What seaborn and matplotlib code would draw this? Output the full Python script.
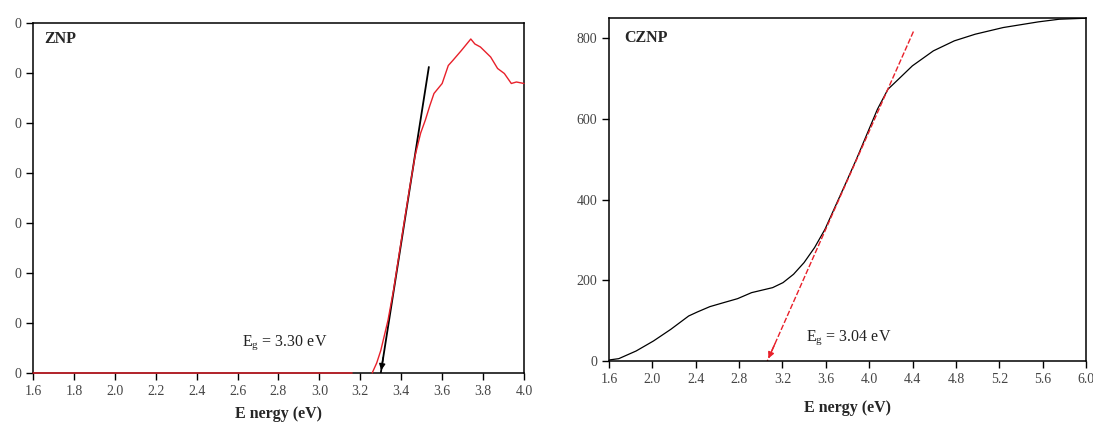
import numpy as np
import pandas as pd
import matplotlib
matplotlib.use("Agg")
import matplotlib.pyplot as plt
import seaborn as sns

# ZNP (left panel)
znp_e = [1.6, 3.16, np.nan, 3.258, 3.28, 3.30, 3.335, 3.362, 3.404, 3.443, 3.468, 3.495, 3.518,
         3.54, 3.56, 3.60, 3.63, 3.652, 3.694, 3.72, 3.74, 3.76, 3.787, 3.837, 3.871, 3.904,
         3.938, 3.963, 4.0]
znp_y = [0, 0, np.nan, 0, 2, 4.5, 10.5, 16.5, 27.5, 37.5, 43.5, 48, 50.6,
         53.5, 55.9, 57.9, 61.5, 62.5, 64.5, 65.8, 66.8, 65.8, 65.2, 63.2, 60.9, 59.9,
         57.9, 58.2, 57.9]
znp_fit_e = [3.535, 3.30]
znp_fit_y = [61.2, 0]

# CZNP (right panel)
cznp_e = [1.6, 1.69, 1.85, 2.01, 2.17, 2.335, 2.415, 2.53, 2.657, 2.786, 2.915,
          3.109, 3.205, 3.302, 3.399, 3.496, 3.592, 3.689, 3.786, 3.882, 3.979,
          4.076, 4.173, 4.27, 4.398, 4.592, 4.785, 4.978, 5.236, 5.559, 5.752, 6.0]
cznp_y = [2.5, 5.8, 24.8, 49.6, 78.5, 111.6, 121.5, 134.7, 144.6, 154.5, 169.4,
          181.8, 194.2, 214.9, 243.8, 281, 326.4, 384.3, 442.1, 500, 562,
          624, 673.5, 698.3, 731.4, 768.6, 793.4, 809.9, 826.4, 840.4, 847, 849.5]
cznp_fit_e = [4.408, 3.06]
cznp_fit_y = [816.5, 0]

znp_xticks = [1.6, 1.8, 2.0, 2.2, 2.4, 2.6, 2.8, 3.0, 3.2, 3.4, 3.6, 3.8, 4.0]
znp_yticks = [0, 10, 20, 30, 40, 50, 60, 70]
znp_ylabels = ["0"] * 8
cznp_xticks = [1.6, 2.0, 2.4, 2.8, 3.2, 3.6, 4.0, 4.4, 4.8, 5.2, 5.6, 6.0]
cznp_yticks = [0, 200, 400, 600, 800]

sns.set_style("ticks")
plt.rcParams["font.family"] = ["Liberation Serif", "DejaVu Serif"]
plt.rcParams["mathtext.fontset"] = "custom"
plt.rcParams["mathtext.rm"] = "Liberation Serif"
plt.rcParams["mathtext.it"] = "Liberation Serif"


def arrow_on_fit(ax, fe, fy, frac, color):
    # arrowhead at the low end of the fitted line
    x0 = fe[1] + (fe[0] - fe[1]) * frac
    y0 = fy[1] + (fy[0] - fy[1]) * frac
    ax.annotate("", xy=(fe[1], fy[1]), xytext=(x0, y0),
                arrowprops=dict(arrowstyle="-|>", color=color, lw=1, mutation_scale=9))


fig = plt.figure(figsize=(10.93, 4.25), dpi=100)
ax1 = fig.add_axes([0.0302, 0.1224, 0.4492, 0.8235])
ax2 = fig.add_axes([0.5572, 0.1506, 0.4364, 0.807])

df1 = pd.DataFrame({"e": znp_e, "y": znp_y})
ax1.plot(df1["e"], df1["y"], color="#e8202a", lw=1.0, zorder=3, clip_on=False)
sns.lineplot(x=znp_fit_e, y=znp_fit_y, ax=ax1, color="black", lw=1.3, sort=False)
arrow_on_fit(ax1, znp_fit_e, znp_fit_y, 0.06, "black")
ax1.text(2.62, 5.5, r"E$_{\mathrm{g}}$ = 3.30 eV", fontsize=11.5, color="#222222")
ax1.text(1.655, 66, "ZNP", fontsize=11.5, fontweight="bold")
ax1.set_xlim(1.6, 4.0)
ax1.set_ylim(0, 70)
ax1.set_xticks(znp_xticks)
ax1.set_xticklabels([f"{v:.1f}" for v in znp_xticks])
ax1.set_yticks(znp_yticks)
ax1.set_yticklabels(znp_ylabels)

df2 = pd.DataFrame({"e": cznp_e, "y": cznp_y})
sns.lineplot(data=df2, x="e", y="y", ax=ax2, color="black", lw=0.9)
sns.lineplot(x=cznp_fit_e, y=cznp_fit_y, ax=ax2, color="#e8202a", lw=1.0, sort=False,
             linestyle=(0, (4, 1.5)))
arrow_on_fit(ax2, cznp_fit_e, cznp_fit_y, 0.06, "#e8202a")
ax2.text(3.42, 50, r"E$_{\mathrm{g}}$ = 3.04 eV", fontsize=11.5, color="#222222")
ax2.text(1.74, 790, "CZNP", fontsize=11.5, fontweight="bold")
ax2.set_xlim(1.6, 6.0)
ax2.set_ylim(0, 850)
ax2.set_xticks(cznp_xticks)
ax2.set_xticklabels([f"{v:.1f}" for v in cznp_xticks])
ax2.set_yticks(cznp_yticks)

for ax, pad in ((ax1, 6), (ax2, 10)):
    for s in ax.spines.values():
        s.set_visible(True)
        s.set_linewidth(1.1)
        s.set_color("black")
    ax.tick_params(direction="out", length=5, width=1, labelsize=10,
                   labelcolor="#444444", color="black")
    ax.set_xlabel("E nergy (eV)", fontsize=11.5, fontweight="bold", labelpad=pad)
    ax.set_ylabel("")

fig.savefig("out.png", dpi=100)
